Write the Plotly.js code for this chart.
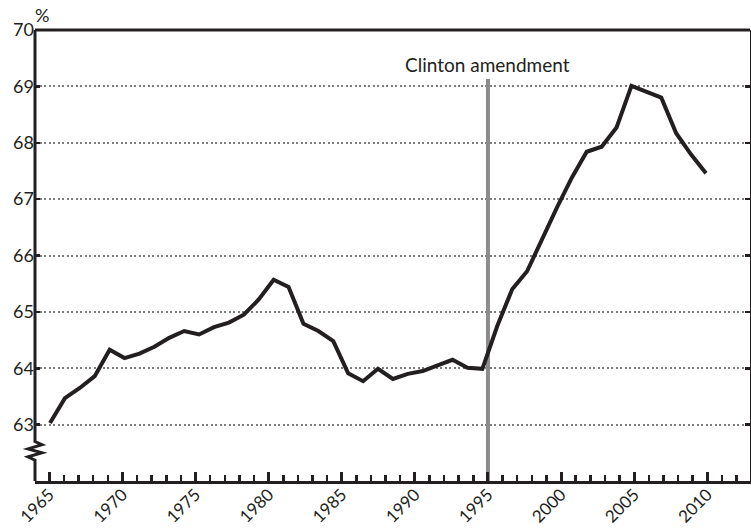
<!DOCTYPE html>
<html>
<head>
<meta charset="utf-8">
<script src="https://cdn.plot.ly/plotly-3.0.1.min.js"></script>
<style>
html,body{margin:0;padding:0;background:#fff;}
#chart{width:751px;height:531px;}
</style>
</head>
<body>
<div id="chart"></div>
<script>
// Data (annual values, %)
var years = [1965,1966,1967,1968,1969,1970,1971,1972,1973,1974,1975,1976,1977,1978,1979,
             1980,1981,1982,1983,1984,1985,1986,1987,1988,1989,1990,1991,1992,1993,1994,
             1995,1996,1997,1998,1999,2000,2001,2002,2003,2004,2005,2006,2007,2008,2009];
var rate  = [63.03,63.47,63.65,63.86,64.33,64.18,64.26,64.38,64.54,64.66,64.60,64.73,64.81,64.95,65.22,
             65.57,65.44,64.79,64.66,64.48,63.91,63.77,63.99,63.81,63.90,63.95,64.05,64.15,64.01,63.99,
             64.75,65.40,65.72,66.29,66.85,67.38,67.84,67.93,68.27,69.01,68.90,68.80,68.17,67.79,67.46];
var yTicks = [63,64,65,66,67,68,69,70];
var xTickVals = [1965,1970,1975,1980,1985,1990,1995,2000,2005,2010];
var xTickText = ['1965','1970','1975','1980','1985','1990','1995','2000','2005','2010'];
var eventYear = 1995;
var eventLabel = 'Clinton amendment';
var unitLabel = '%';

var ink = '#231f20';
var font = 'Lato, "Open Sans", sans-serif';

var trace = {
  x: years, y: rate, xaxis: 'x2', yaxis: 'y',
  type: 'scatter', mode: 'lines',
  line: {color: ink, width: 4, shape: 'linear'},
  hoverinfo: 'skip', showlegend: false
};
var rightDummy = {x: [years[0]], y: [rate[0]], xaxis: 'x2', yaxis: 'y2', mode: 'markers',
  marker: {opacity: 0}, showlegend: false, hoverinfo: 'skip'};

var zz = 0.0098;
var layout = {
  width: 751, height: 531,
  margin: {l: 35, r: 1, t: 30, b: 50},
  paper_bgcolor: '#fff', plot_bgcolor: '#fff',
  font: {family: font, color: ink, size: 18},
  showlegend: false,
  xaxis: {
    range: [1964.022, 2012.92],
    tickvals: xTickVals, ticktext: xTickText,
    tickangle: -45,
    ticks: 'inside', ticklen: 9, tickwidth: 3, tickcolor: ink,
    ticklabelstandoff: -6,
    minor: {dtick: 1, tick0: 1965, ticks: 'inside', ticklen: 6, tickwidth: 2.5, tickcolor: ink, showgrid: false},
    showline: true, linewidth: 3, linecolor: ink,
    showgrid: false, zeroline: false, automargin: false,
    tickfont: {family: font, size: 17, color: ink}
  },
  xaxis2: {
    overlaying: 'x', range: [1963.994, 2011.951], visible: false, showgrid: false, zeroline: false
  },
  yaxis: {
    range: [62, 70],
    tickvals: yTicks,
    ticks: 'inside', ticklen: 5, tickwidth: 2.5, tickcolor: ink,
    showline: false, automargin: false,
    showgrid: true, gridcolor: '#7d7d7d', gridwidth: 2, griddash: '2px,2.5px',
    zeroline: false,
    tickfont: {family: font, size: 18, color: ink}
  },
  yaxis2: {
    overlaying: 'y', side: 'right', range: [62, 70], tickvals: yTicks,
    ticks: 'inside', ticklen: 5, tickwidth: 2.5, tickcolor: ink,
    showticklabels: false, showline: true, linewidth: 1.5, linecolor: ink,
    showgrid: false, zeroline: false
  },
  shapes: [
    {type: 'line', xref: 'x', yref: 'y', x0: eventYear, x1: eventYear, y0: 62, y1: 69.13,
     line: {color: '#8c8c8c', width: 4}, layer: 'between'},
    {type: 'line', xref: 'paper', yref: 'paper', x0: 0, x1: 1, y0: 1, y1: 1,
     line: {color: ink, width: 3}},
    {type: 'path', xref: 'paper', yref: 'y',
     path: 'M 0,70 L 0,62.70 L ' + zz + ',62.645 L ' + (-zz) + ',62.57 L ' + zz + ',62.50 L ' + (-zz) + ',62.43 L 0,62.37 L 0,61.97',
     line: {color: ink, width: 3}, fillcolor: 'rgba(0,0,0,0)'}
  ],
  annotations: [
    {xref: 'x', yref: 'y', x: eventYear, y: 69.38, text: eventLabel, showarrow: false,
     font: {family: font, size: 19, color: ink}, xanchor: 'center', yanchor: 'middle'},
    {xref: 'paper', yref: 'paper', x: 0.01, y: 1.033, text: unitLabel, showarrow: false,
     font: {family: font, size: 18, color: ink}, xanchor: 'center', yanchor: 'middle'}
  ]
};

Plotly.newPlot('chart', [trace, rightDummy], layout, {displayModeBar: false, staticPlot: true});
</script>
</body>
</html>
